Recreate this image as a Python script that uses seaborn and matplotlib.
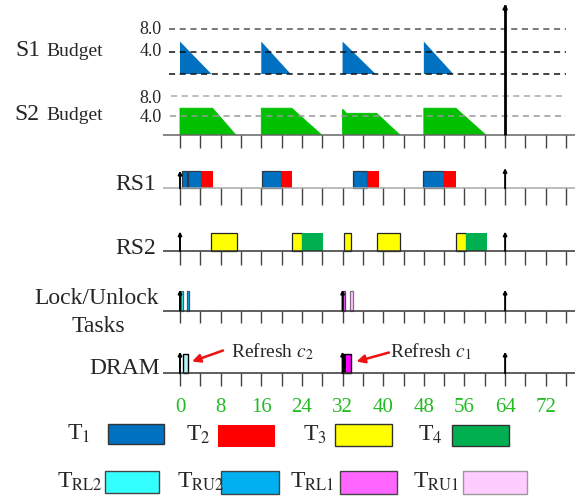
import matplotlib
matplotlib.use("Agg")
import matplotlib.pyplot as plt
from matplotlib.patches import Rectangle
import pandas as pd
import seaborn as sns

# ---------------------------------------------------------------- data
# server S1 budget: replenished at each start, depleted linearly
s1_start = [0, 16, 32, 48]
s1_end = [6.2, 21.8, 38.5, 53.8]
s1_peak = 5.8

# server S2 budget outline vertices (time, budget)
s2_time = [[0, 0, 6.4, 11.0],
           [16, 16, 22.0, 27.9],
           [32, 32, 32.8, 38.7, 43.3],
           [48, 48, 54.3, 60.2]]
s2_budget = [[0, 5.5, 5.5, 0],
             [0, 5.5, 5.5, 0],
             [0, 5.3, 4.45, 4.45, 0],
             [0, 5.5, 5.5, 0]]
budget_ticks = [4.0, 8.0]

# reservation RS1 schedule
rs1_task = ["T1", "T1", "T2", "T1", "T2", "T1", "T2", "T1", "T2"]
rs1_start = [0.4, 1.6, 4.1, 16.1, 19.8, 34.1, 36.9, 47.9, 52.0]
rs1_end = [1.3, 4.1, 6.5, 19.8, 22.0, 36.9, 39.2, 52.0, 54.3]

# reservation RS2 schedule
rs2_task = ["T3", "T3", "T4", "T3", "T3", "T3", "T4"]
rs2_start = [6.2, 22.0, 24.0, 32.3, 38.7, 54.3, 56.3]
rs2_end = [11.3, 24.0, 28.1, 33.6, 43.4, 56.3, 60.4]

# lock / unlock tasks
lock_task = ["TRL2", "TRU2", "TRL1", "TRU1"]
lock_start = [0.2, 1.3, 32.15, 33.5]
lock_end = [0.65, 1.8, 32.5, 34.1]

# DRAM refreshes
dram_name = ["c2", "c1"]
dram_start = [0.65, 32.1]
dram_end = [1.5, 33.6]

releases_rs = [0, 64]
releases_lock = [0, 32, 64]
hyper_period = 64
tick_times = list(range(0, 80, 4))
time_labels = list(range(0, 80, 8))

task_color = {"T1": "#0070c0", "T2": "#ff0000", "T3": "#ffff00", "T4": "#00b050",
              "TRL2": "#33ffff", "TRU2": "#00b0f0", "TRL1": "#ff66ff", "TRU1": "#ffccff"}
task_edge = {"T1": "#2a3a4a", "T2": "none", "T3": "#222222", "T4": "none",
             "TRL2": "#446666", "TRU2": "#335577", "TRL1": "#663366", "TRU1": "#8a6a8a"}
dram_color = {"c2": "#b4f4f4", "c1": "#ff00ff"}

# ---------------------------------------------------------------- layout
W, H = 585, 498
T0_PX, PX_PER_T = 180.0, 5.08

sns.set_theme(style="white")
plt.rcParams["font.family"] = ["Liberation Serif", "DejaVu Serif"]
plt.rcParams["mathtext.fontset"] = "stix"

fig = plt.figure(figsize=(W / 100, H / 100), dpi=100)
fig.patch.set_facecolor("white")


def t_px(p):
    return (p - T0_PX) / PX_PER_T


XLIM = (t_px(0), t_px(W))


def make_row(base_px, unit_px):
    ax = fig.add_axes([0, 0, 1, 1])
    ax.set_xlim(*XLIM)
    ax.set_ylim((base_px - H) / unit_px, base_px / unit_px)
    ax.set_axis_off()
    ax.patch.set_alpha(0)
    return ax


def timeline(ax, unit_px, tick_px, color="#333333"):
    ax.hlines(0, t_px(163), t_px(575), colors=color, lw=1.1)
    ax.vlines(tick_times, -tick_px / unit_px, 0, colors="#444444", lw=1.0)


def release(ax, t, h, lw=1.4):
    ax.annotate("", xy=(t, h), xytext=(t, 0),
                arrowprops=dict(arrowstyle="-|>", color="black", lw=lw,
                                mutation_scale=5, shrinkA=0, shrinkB=0))


def fig_text(xp, yp, s, **kw):
    fig.text(xp / W, 1 - yp / H, s, **kw)


dash = (0, (4, 3))

# ---- S1 budget
ax_s1 = make_row(74, 5.59)
for s, e in zip(s1_start, s1_end):
    ax_s1.fill([s, s, e], [0, s1_peak, 0], color="#0070c0", lw=0)
ax_s1.hlines([0, 4, 8], t_px(169), t_px(566), colors=["#111111", "#111111", "#555555"],
             linestyles=dash, lw=1.1)
for v in budget_ticks:
    ax_s1.text(t_px(162), v, f"{v:.1f}", ha="right", va="center", fontsize=13)

# ---- S2 budget
ax_s2 = make_row(135, 4.875)
for ts, bs in zip(s2_time, s2_budget):
    ax_s2.fill(ts, bs, color="#00c000", lw=0)
    sns.lineplot(x=ts, y=bs, ax=ax_s2, color="#00c000", lw=0.6,
                 estimator=None, sort=False)
ax_s2.hlines(8, t_px(171), t_px(566), colors="#aaaaaa", linestyles=dash, lw=1.1)
ax_s2.hlines(4, t_px(170), t_px(566), colors="#999999", linestyles=dash, lw=1.1)
for v in budget_ticks:
    ax_s2.text(t_px(162), v - 0.5, f"{v:.1f}", ha="right", va="center", fontsize=13)
timeline(ax_s2, 4.875, 13, color="#666666")
ax_s2.vlines(hyper_period, 0, (135 - 5) / 4.875, colors="black", lw=2.0)
ax_s2.annotate("", xy=(hyper_period, (135 - 4) / 4.875),
               xytext=(hyper_period, (135 - 12) / 4.875),
               arrowprops=dict(arrowstyle="-|>", color="black", lw=1.5,
                               mutation_scale=6, shrinkA=0, shrinkB=0))

# ---- RS1
ax_r1 = make_row(188.3, 17.6)
timeline(ax_r1, 17.6, 17, color="#aaaaaa")
df1 = pd.DataFrame({"task": rs1_task, "start": rs1_start, "end": rs1_end})
for _, r in df1.iterrows():
    ax_r1.add_patch(Rectangle((r.start, 0), r.end - r.start, 1,
                              facecolor=task_color[r.task], edgecolor=task_edge[r.task], lw=0.9))
release(ax_r1, 0, 1.0)
release(ax_r1, 64, 1.15)

# ---- RS2
ax_r2 = make_row(251, 17.7)
timeline(ax_r2, 17.7, 14)
df2 = pd.DataFrame({"task": rs2_task, "start": rs2_start, "end": rs2_end})
for _, r in df2.iterrows():
    ax_r2.add_patch(Rectangle((r.start, 0), r.end - r.start, 1,
                              facecolor=task_color[r.task], edgecolor=task_edge[r.task], lw=0.9))
for t in releases_rs:
    release(ax_r2, t, 1.1)

# ---- Lock / Unlock tasks
ax_lk = make_row(310.7, 20)
timeline(ax_lk, 20, 12.5)
for name, s, e in zip(lock_task, lock_start, lock_end):
    ax_lk.add_patch(Rectangle((s, 0), e - s, 1, facecolor=task_color[name],
                              edgecolor=task_edge[name], lw=0.9))
for t in releases_lock:
    release(ax_lk, t, 1.05)

# ---- DRAM
ax_dr = make_row(373.3, 19.3)
timeline(ax_dr, 19.3, 13)
for name, s, e in zip(dram_name, dram_start, dram_end):
    ax_dr.add_patch(Rectangle((s, 0), e - s, 1, facecolor=dram_color[name],
                              edgecolor="black", lw=1.0))
ax_dr.add_patch(Rectangle((dram_start[1], 0), 0.6, 1, facecolor="black", lw=0))
for t in releases_lock:
    release(ax_dr, t, 1.12)
ax_dr.annotate("", xy=(t_px(192), (373.3 - 361.5) / 19.3),
               xytext=(t_px(223), (373.3 - 350.5) / 19.3),
               arrowprops=dict(arrowstyle="-|>", color="#ee1111", lw=1.8,
                               mutation_scale=12, shrinkA=0, shrinkB=0))
ax_dr.annotate("", xy=(t_px(356.5), (373.3 - 361.5) / 19.3),
               xytext=(t_px(389), (373.3 - 352.5) / 19.3),
               arrowprops=dict(arrowstyle="-|>", color="#ee1111", lw=1.8,
                               mutation_scale=12, shrinkA=0, shrinkB=0))
ax_dr.text(t_px(231), (373.3 - 352) / 19.3, r"Refresh $c_2$", fontsize=14,
           ha="left", va="center")
ax_dr.text(t_px(389.5), (373.3 - 352) / 19.3, r"Refresh $c_1$", fontsize=14,
           ha="left", va="center")
for t in time_labels:
    ax_dr.text(t, (373.3 - 407.5) / 19.3, str(t), color="#22bb22", fontsize=15,
               ha="center", va="center")

# ---------------------------------------------------------------- row labels
fig_text(15, 50, "S1", fontsize=17, va="center", ha="left")
fig_text(46, 51.5, "Budget", fontsize=14, va="center", ha="left")
fig_text(14, 114, "S2", fontsize=17, va="center", ha="left")
fig_text(46, 115.5, "Budget", fontsize=14, va="center", ha="left")
fig_text(156, 184, "RS1", fontsize=17, va="center", ha="right")
fig_text(156, 248, "RS2", fontsize=17, va="center", ha="right")
fig_text(97, 298, "Lock/Unlock", fontsize=17, va="center", ha="center")
fig_text(98, 326, "Tasks", fontsize=17, va="center", ha="center")
fig_text(160, 368, "DRAM", fontsize=17, va="center", ha="right")

# ---------------------------------------------------------------- legend
legend_items = [
    ("T1", r"T$_1$", 66.7, 434, 107.7, 423.5, 164.3, 444.3, "#333333"),
    ("T2", r"T$_2$", 185.7, 435, 217.7, 425, 275, 446.7, "none"),
    ("T3", r"T$_3$", 302.7, 435, 335, 424, 391.7, 445.7, "#333333"),
    ("T4", r"T$_4$", 418, 435, 452.3, 425, 509, 445.7, "#333333"),
    ("TRL2", r"T$_{\mathrm{RL2}}$", 56.7, 482, 105, 471, 159, 493.3, "#444444"),
    ("TRU2", r"T$_{\mathrm{RU2}}$", 176.7, 482, 221, 471, 279.3, 494, "#444444"),
    ("TRL1", r"T$_{\mathrm{RL1}}$", 290, 482, 340, 471, 396.7, 494, "#444444"),
    ("TRU1", r"T$_{\mathrm{RU1}}$", 413, 482, 463.3, 471, 527.3, 494, "#999999"),
]
for key, label, tx, ty, x0, y0, x1, y1, ec in legend_items:
    fig.patches.append(Rectangle((x0 / W, 1 - y1 / H), (x1 - x0) / W, (y1 - y0) / H,
                                 transform=fig.transFigure, facecolor=task_color[key],
                                 edgecolor=ec, lw=1.0))
    fig_text(tx, ty, label, fontsize=17, va="center", ha="left")

fig.savefig("out.png", dpi=100, facecolor="white")
